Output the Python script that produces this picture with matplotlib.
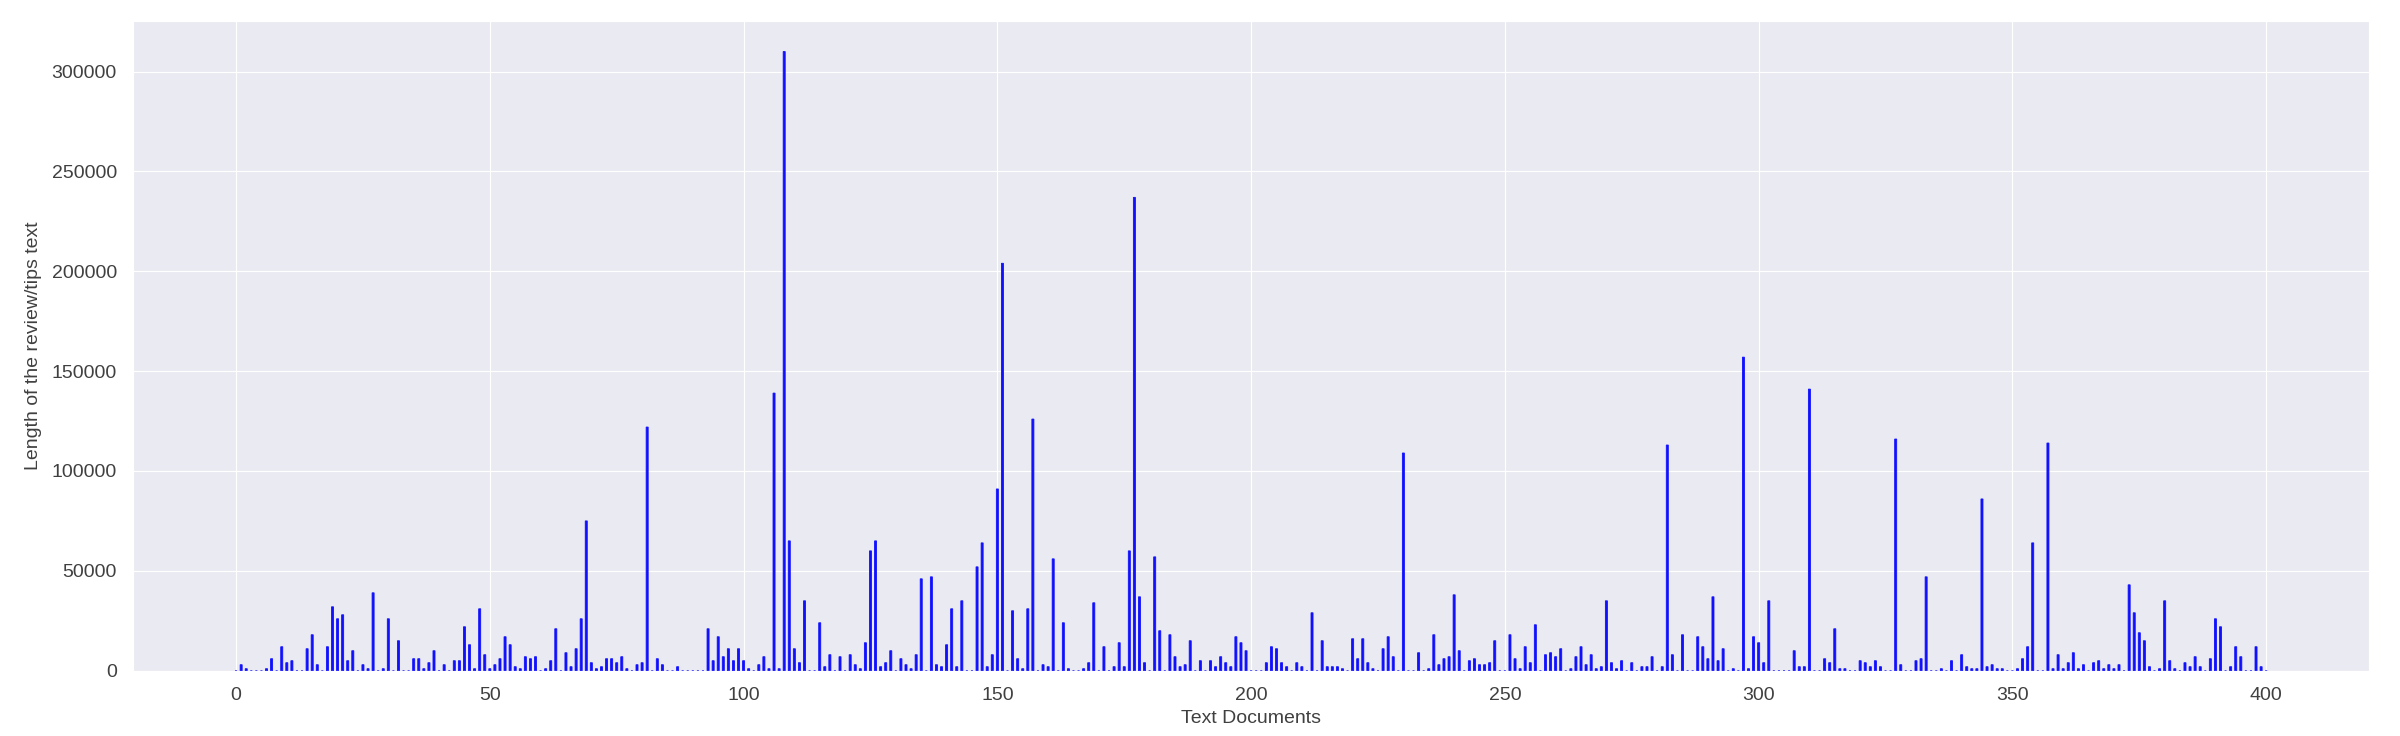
import numpy as np
import matplotlib
matplotlib.use('Agg')
import matplotlib.pyplot as plt
import seaborn as sns

# documents numbered 0..400, only the ones with a visible bar listed
n_docs = 401
doc_ids = [
    1, 2, 6, 7, 9, 10, 11, 14, 15, 16, 18, 19, 20, 21, 22, 23, 25, 26, 27, 29,
    30, 32, 35, 36, 37, 38, 39, 41, 43, 44, 45, 46, 47, 48, 49,
    50, 51, 52, 53, 54, 55, 56, 57, 58, 59, 61, 62, 63, 65, 66, 67, 68, 69, 70,
    71, 72, 73, 74, 75, 76, 77, 79, 80, 81, 83, 84, 87, 93, 94, 95, 96, 97, 98,
    99, 100, 101,
    103, 104, 105, 106, 107, 108, 109, 110, 111, 112, 115, 116, 117, 119, 121,
    122, 123, 124, 125, 126, 127, 128, 129, 131, 132, 133, 134, 135, 137, 138,
    139, 140, 141, 142, 143, 146, 147, 148, 149, 150, 151,
    153, 154, 155, 156, 157, 159, 160, 161, 163, 164, 167, 168, 169, 171, 173,
    174, 175, 176, 177, 178, 179, 181, 182, 184, 185, 186, 187, 188, 190, 192,
    193, 194, 195, 196, 197, 198, 199,
    203, 204, 205, 206, 207, 209, 210, 212, 214, 215, 216, 217, 218, 220, 221,
    222, 223, 224, 226, 227, 228, 230, 233, 235, 236, 237, 238, 239, 240, 241,
    243, 244, 245, 246, 247, 248, 251, 252, 253, 254,
    255, 256, 258, 259, 260, 261, 263, 264, 265, 266, 267, 268, 269, 270, 271,
    272, 273, 275, 277, 278, 279, 281, 282, 283, 285, 288, 289, 290, 291, 292,
    293, 295, 297, 298, 299, 300, 301, 302,
    307, 308, 309, 310, 313, 314, 315, 316, 317, 320, 321, 322, 323, 324, 327,
    328, 331, 332, 333, 336, 338, 340, 341, 342, 343, 344, 345, 346, 347, 348,
    351, 352, 353, 354, 357,
    358, 359, 360, 361, 362, 363, 364, 366, 367, 368, 369, 370, 371, 373, 374,
    375, 376, 377, 379, 380, 381, 382, 384, 385, 386, 387, 389, 390, 391, 393,
    394, 395, 398, 399,
]
text_lengths = [
    3000, 1000, 1000, 6000, 12000, 4000, 5000, 11000, 18000, 3000, 12000, 32000,
    26000, 28000, 5000, 10000, 3000, 1000, 39000, 1000,
    26000, 15000, 6000, 6000, 1000, 4000, 10000, 3000, 5000, 5000, 22000, 13000,
    1000, 31000, 8000,
    1000, 3000, 6000, 17000, 13000, 2000, 1000, 7000, 6000, 7000, 1000, 5000,
    21000, 9000, 2000, 11000, 26000, 75000, 4000,
    1000, 2000, 6000, 6000, 4000, 7000, 1000, 3000, 4000, 122000, 6000, 3000,
    2000, 21000, 5000, 17000, 7000, 11000, 5000,
    11000, 5000, 1000,
    3000, 7000, 1000, 139000, 1000, 310000, 65000, 11000, 4000, 35000, 24000,
    2000, 8000, 7000, 8000,
    3000, 1000, 14000, 60000, 65000, 2000, 4000, 10000, 6000, 3000, 1000, 8000,
    46000, 47000, 3000,
    2000, 13000, 31000, 2000, 35000, 52000, 64000, 2000, 8000, 91000, 204000,
    30000, 6000, 1000, 31000, 126000, 3000, 2000, 56000, 24000, 1000, 1000,
    4000, 34000, 12000, 2000,
    14000, 2000, 60000, 237000, 37000, 4000, 57000, 20000, 18000, 7000, 2000,
    3000, 15000, 5000, 5000,
    2000, 7000, 4000, 2000, 17000, 14000, 10000,
    4000, 12000, 11000, 4000, 2000, 4000, 2000, 29000, 15000, 2000, 2000, 2000,
    1000, 16000, 6000,
    16000, 4000, 1000, 11000, 17000, 7000, 109000, 9000, 1000, 18000, 3000,
    6000, 7000, 38000, 10000,
    5000, 6000, 3000, 3000, 4000, 15000, 18000, 6000, 1000, 12000,
    4000, 23000, 8000, 9000, 7000, 11000, 1000, 7000, 12000, 3000, 8000, 1000,
    2000, 35000, 4000,
    1000, 5000, 4000, 2000, 2000, 7000, 2000, 113000, 8000, 18000, 17000, 12000,
    6000, 37000, 5000,
    11000, 1000, 157000, 1000, 17000, 14000, 4000, 35000,
    10000, 2000, 2000, 141000, 6000, 4000, 21000, 1000, 1000, 5000, 4000, 2000,
    5000, 2000, 116000,
    3000, 5000, 6000, 47000, 1000, 5000, 8000, 2000, 1000, 1000, 86000, 2000,
    3000, 1000, 1000,
    1000, 6000, 12000, 64000, 114000,
    1000, 8000, 1000, 4000, 9000, 1000, 3000, 4000, 5000, 1000, 3000, 1000,
    3000, 43000, 29000,
    19000, 15000, 2000, 1000, 35000, 5000, 1000, 4000, 2000, 7000, 2000, 6000,
    26000, 22000, 2000,
    12000, 7000, 12000, 2000,
]

lengths = np.zeros(n_docs)
lengths[doc_ids] = text_lengths

sns.set_style('darkgrid')
plt.rcParams['font.family'] = ['Liberation Sans', 'DejaVu Sans']

fig = plt.figure(figsize=(24, 7.36), dpi=100)
ax = fig.add_subplot(111)
fig.subplots_adjust(left=0.0556, right=0.987, top=0.972, bottom=0.0887)

ax.bar(np.arange(n_docs), lengths, width=0.4, color='#1010ff',
       edgecolor='#1010ff', linewidth=0.6, snap=False)
ax.set_xlabel('Text Documents', fontsize=14, color='.25')
ax.set_ylabel('Length of the review/tips text', fontsize=14, color='.25',
              labelpad=7)
ax.tick_params(labelsize=14, pad=8.5, labelcolor='.25')

fig.savefig('out.png', dpi=100)
